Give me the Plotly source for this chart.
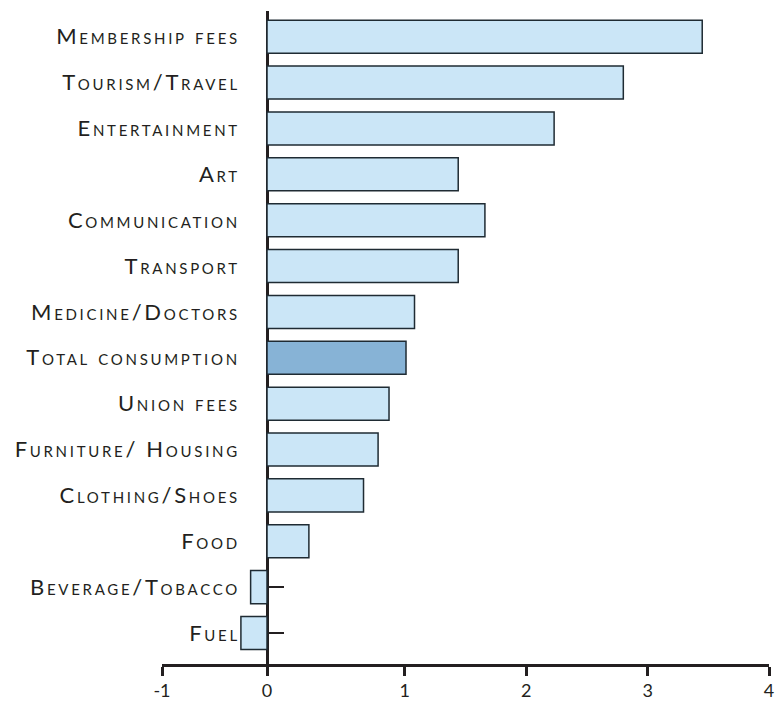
import plotly.graph_objects as go

categories = [
    "Membership fees", "Tourism/Travel", "Entertainment", "Art",
    "Communication", "Transport", "Medicine/Doctors", "Total consumption",
    "Union fees", "Furniture/ Housing", "Clothing/Shoes", "Food",
    "Beverage/Tobacco", "Fuel",
]
values = [3.45, 2.80, 2.23, 1.44, 1.66, 1.44, 1.08, 1.01,
          0.87, 0.78, 0.66, 0.21, -0.27, -0.35]
x_tick_values = [-1, 1, 2, 3, 4]
x_tick_labels = ["-1", "1", "2", "3", "4"]
highlight = "Total consumption"

# position where the vertical axis crosses (drawn as "0" in the reference)
AXIS_CROSS = -0.135
X_RANGE = [-1, 4]

light = "#cbe6f7"
dark = "#87b3d6"
ink = "#231f20"
edge = "#1f2b33"

colors = [dark if c == highlight else light for c in categories]

fig = go.Figure(
    go.Bar(
        y=categories,
        x=[v - AXIS_CROSS for v in values],
        base=AXIS_CROSS,
        orientation="h",
        width=0.72,
        marker=dict(color=colors, line=dict(color=edge, width=1.5)),
        hoverinfo="skip",
    )
)

cross_frac = (AXIS_CROSS - X_RANGE[0]) / (X_RANGE[1] - X_RANGE[0])

fig.update_layout(
    width=778, height=701,
    margin=dict(l=162, r=9, t=11, b=37),
    plot_bgcolor="white", paper_bgcolor="white",
    showlegend=False,
    font=dict(family="Lato", color=ink),
    xaxis=dict(
        range=X_RANGE,
        automargin=False,
        tickvals=[x_tick_values[0], AXIS_CROSS] + x_tick_values[1:],
        ticktext=[x_tick_labels[0], "0"] + x_tick_labels[1:],
        showgrid=False, zeroline=False,
        showline=True, linecolor=ink, linewidth=2.5,
        ticks="outside", ticklen=9, tickwidth=2.5, tickcolor=ink,
        tickfont=dict(family="Lato", size=18, color=ink),
    ),
    yaxis=dict(
        range=[13.676, -0.56],
        automargin=False,
        anchor="free", position=cross_frac,
        showgrid=False, zeroline=False,
        showline=True, linecolor=ink, linewidth=2.5,
        ticks="inside", ticklen=15, tickwidth=2, tickcolor=ink,
        layer="below traces",
        ticklabelstandoff=22,
        tickfont=dict(family="Lato", size=22, color=ink, variant="small-caps"),
    ),
)

post = """
document.documentElement.style.margin = '0';
document.body.style.margin = '0';
document.body.style.padding = '0';
var gd = document.getElementById('{plot_id}');
gd.querySelectorAll('.ytick text').forEach(function(t){
  t.style.letterSpacing = '2.7px';
});
"""

fig.write_html("out.html", post_script=post, config={"displayModeBar": False})
